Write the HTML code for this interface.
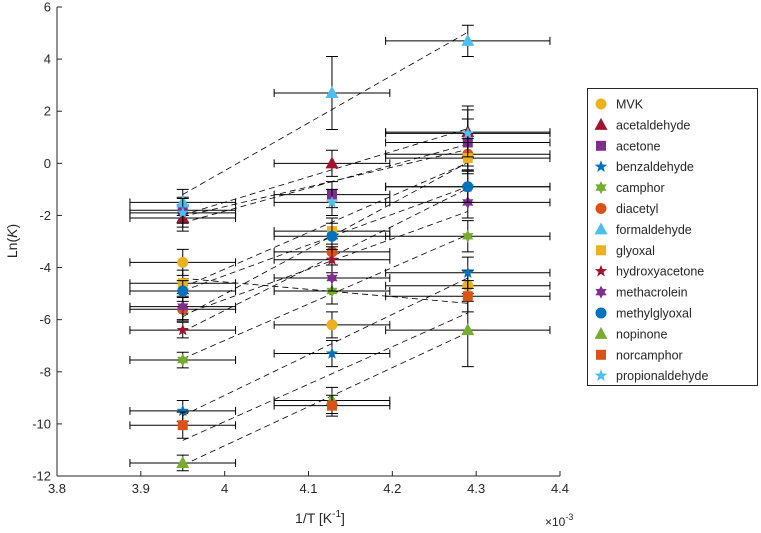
<!DOCTYPE html>
<html><head><meta charset="utf-8"><style>
body{margin:0;background:#fff;font-family:"Liberation Sans",sans-serif}
svg{display:block}
text{font-family:"Liberation Sans",sans-serif;fill:#262626}
</style></head><body>
<svg id="chart" width="761" height="533" viewBox="0 0 761 533"></svg>
<script>
const names=["MVK","acetaldehyde","acetone","benzaldehyde","camphor","diacetyl","formaldehyde","glyoxal","hydroxyacetone","methacrolein","methylglyoxal","nopinone","norcamphor","propionaldehyde"];
const xVals=[3.95,4.128,4.29];
const xErr=[0.063,0.069,0.098];
const y1=[-3.8,-2.1,-1.8,-9.5,-7.55,-5.6,-1.5,-4.6,-6.4,-5.5,-4.9,-11.5,-10.05,-1.9];
const y2=[-6.2,0.0,-1.2,-7.3,-4.9,-3.4,2.7,-2.6,-3.7,-4.4,-2.8,-9.1,-9.3,-1.5];
const y3=[-4.7,1.2,0.8,-4.2,-2.8,0.35,4.7,0.2,-0.9,-1.5,-0.9,-6.4,-5.1,1.15];
const yErr=[0.5,0.5,0.5,0.4,0.3,0.45,0.5,0.5,0.3,0.5,0.4,0.3,0.5,0.55];
const yErrMid=[0.5,0.5,0.5,0.5,0.5,0.5,1.4,0.5,0.5,0.5,0.5,0.5,0.4,0.5];
const yErrHi=[0.6,1.0,0.9,0.6,0.6,0.6,0.6,0.6,0.6,0.6,0.6,1.4,0.6,0.9];
const xTicks=[3.8,3.9,4.0,4.1,4.2,4.3,4.4];
const xTickLabels=["3.8","3.9","4","4.1","4.2","4.3","4.4"];
const yTicks=[6,4,2,0,-2,-4,-6,-8,-10,-12];
const colors=["#EDB120","#A2142F","#7E2F8E","#0072BD","#77AC30","#D95319","#4DBEEE","#EDB120","#A2142F","#7E2F8E","#0072BD","#77AC30","#D95319","#4DBEEE"];
const shapes=["o","^","s","p","h","o","^","s","p","h","o","^","s","p"];

const NS="http://www.w3.org/2000/svg";
const svg=document.getElementById("chart");
const L=57,R=560,T=7,B=476;
const sx=v=>L+(v-3.8)/0.6*(R-L);
const sy=v=>T+(6-v)/18*(B-T);
function el(tag,a,parent){const e=document.createElementNS(NS,tag);for(const k in a)e.setAttribute(k,a[k]);(parent||svg).appendChild(e);return e;}
function marker(shape,x,y,c,g){
  let e;
  if(shape==="o"){e=el("circle",{cx:x,cy:y,r:5.5,fill:c},g);}
  else if(shape==="s"){e=el("rect",{x:x-5,y:y-5,width:10,height:10,fill:c},g);}
  else if(shape==="^"){e=el("polygon",{points:`${x},${y-7} ${x+6.5},${y+5} ${x-6.5},${y+5}`,fill:c},g);}
  else{const n=shape==="p"?5:6,ro=6.5,ri=shape==="p"?2.7:3.6;let p=[];for(let i=0;i<2*n;i++){const a=-Math.PI/2+i*Math.PI/n,r=i%2?ri:ro;p.push((x+r*Math.cos(a)).toFixed(1)+","+(y+r*Math.sin(a)).toFixed(1));}e=el("polygon",{points:p.join(" "),fill:c},g);}
  return e;
}
const ax=el("g",{});


el("line",{x1:L,y1:T,x2:L,y2:B,stroke:"#262626","stroke-width":1},ax);
el("line",{x1:L,y1:B,x2:R,y2:B,stroke:"#262626","stroke-width":1},ax);
xTicks.forEach((v,i)=>{const x=sx(v);el("line",{x1:x,y1:B,x2:x,y2:B-5,stroke:"#262626"},ax);
  const t=el("text",{x:x,y:B+17,"text-anchor":"middle","font-size":13},ax);t.textContent=xTickLabels[i];
  
  });
yTicks.forEach(v=>{const y=sy(v);el("line",{x1:L,y1:y,x2:L+5,y2:y,stroke:"#262626"},ax);
  const t=el("text",{x:L-6,y:y+4.5,"text-anchor":"end","font-size":13},ax);t.textContent=String(v);
  
  });
const xl=el("text",{x:320,y:523,"text-anchor":"middle","font-size":14},ax);
xl.innerHTML='1/T [K<tspan dy="-6" font-size="10">-1</tspan><tspan dy="6">]</tspan>';


const ex=el("text",{x:545,y:526,"font-size":12},ax);
ex.innerHTML='×10<tspan dy="-6" font-size="9">-3</tspan>';


const yl=el("text",{x:0,y:0,"text-anchor":"middle","font-size":14,transform:"translate(17,241) rotate(-90)"},ax);
yl.innerHTML='Ln(<tspan font-style="italic">K</tspan>)';



const ys=[y1,y2,y3];
names.forEach((n,i)=>{
  const xs=xVals, yy=[y1[i],y2[i],y3[i]];
  const mx=xs.reduce((a,b)=>a+b)/3,my=yy.reduce((a,b)=>a+b)/3;
  let sxy=0,sxx=0;for(let k=0;k<3;k++){sxy+=(xs[k]-mx)*(yy[k]-my);sxx+=(xs[k]-mx)**2;}
  const m=sxy/sxx,b=my-m*mx;
  const ln=el("line",{x1:sx(xVals[0]),y1:sy(m*xVals[0]+b),x2:sx(xVals[2]),y2:sy(m*xVals[2]+b),stroke:"#000","stroke-width":0.8,"stroke-dasharray":"6,4"});
  
  
});
const errs=[yErr,yErrMid,yErrHi];
names.forEach((n,i)=>{
  const g=el("g",{});
  
  
  for(let k=0;k<3;k++){
    const x=sx(xVals[k]),y=sy(ys[k][i]),e=errs[k][i];
    const xa=sx(xVals[k]-xErr[k]),xb=sx(xVals[k]+xErr[k]);
    const ya=sy(ys[k][i]+e),yb=sy(ys[k][i]-e);
    const p=`M${xa},${y}H${xb}M${xa},${y-4}V${y+4}M${xb},${y-4}V${y+4}M${x},${ya}V${yb}M${x-6},${ya}H${x+6}M${x-6},${yb}H${x+6}`;
    const eb=el("path",{d:p,stroke:"#000","stroke-width":1,fill:"none"},g);
    
    
  }
  for(let k=0;k<3;k++){
    const m=marker(shapes[i],sx(xVals[k]),sy(ys[k][i]),colors[i],g);
    
    
  }
});
const lg=el("g",{});


el("rect",{x:587.5,y:88.5,width:170,height:297,fill:"#fff",stroke:"#262626","stroke-width":1},lg);
names.forEach((n,i)=>{
  const y=104+i*20.9;
  const e=el("g",{},lg);
  
  
  marker(shapes[i],601,y,colors[i],e);
  const t=el("text",{x:616,y:y+4.5,"font-size":12.5},e);t.textContent=n;
});
</script>
</body></html>
